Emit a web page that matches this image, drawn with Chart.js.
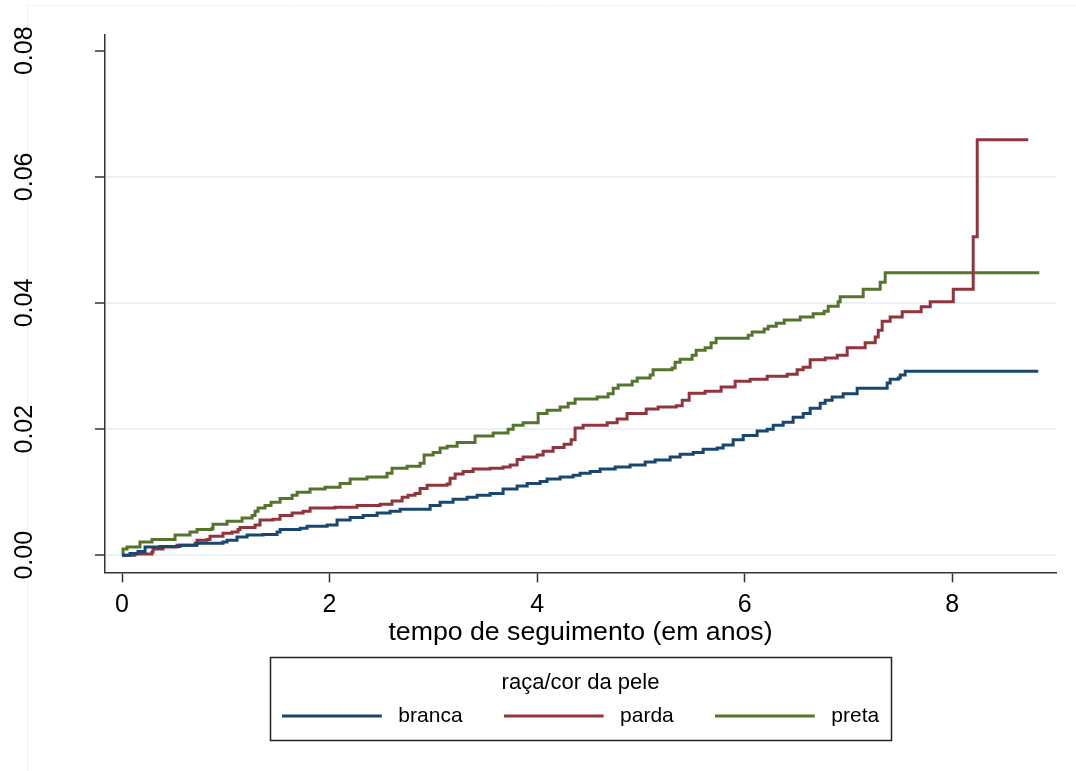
<!DOCTYPE html>
<html><head><meta charset="utf-8">
<script src="https://cdn.jsdelivr.net/npm/chart.js@4.4.1/dist/chart.umd.min.js"></script>
<style>html,body{margin:0;padding:0;background:#fff}</style>
</head><body>
<canvas id="c" width="1076" height="771"></canvas>
<script>
const seriesNames = ['branca', 'parda', 'preta'];
const legendTitle = 'raça/cor da pele';
const xTitle = 'tempo de seguimento (em anos)';
const xTicks = [0, 2, 4, 6, 8];
const yTicks = [0, 0.02, 0.04, 0.06, 0.08];

const brancaX = [0,0.077,0.154,0.222,0.366,0.559,0.723,0.973,1.012,1.108,1.205,1.359,1.494,1.523,1.716,1.783,1.976,2.072,2.198,2.323,2.458,2.583,2.680,2.969,3.065,3.190,3.325,3.422,3.547,3.672,3.807,3.904,4.029,4.096,4.222,4.347,4.414,4.511,4.607,4.752,4.896,5.041,5.137,5.282,5.378,5.504,5.600,5.735,5.793,5.889,5.986,6.120,6.217,6.275,6.371,6.467,6.564,6.631,6.728,6.776,6.843,6.949,7.084,7.373,7.402,7.480,7.499,7.547,8.829];
const brancaY = [0,0.0003,0.0006,0.0013,0.0014,0.0016,0.0019,0.0021,0.0024,0.0029,0.0032,0.0033,0.0037,0.0041,0.0043,0.0046,0.0048,0.0056,0.0060,0.0063,0.0067,0.0070,0.0073,0.0079,0.0084,0.0089,0.0092,0.0095,0.0098,0.0105,0.0110,0.0114,0.0117,0.0121,0.0124,0.0127,0.0130,0.0133,0.0137,0.0140,0.0143,0.0148,0.0151,0.0156,0.0160,0.0163,0.0168,0.0170,0.0175,0.0183,0.0190,0.0197,0.0200,0.0206,0.0211,0.0219,0.0225,0.0233,0.0241,0.0246,0.0251,0.0256,0.0265,0.0273,0.0279,0.0281,0.0286,0.0292,0.0292];

const pardaX = [0,0.125,0.289,0.299,0.395,0.530,0.704,0.723,0.819,0.848,0.973,1.060,1.118,1.137,1.282,1.330,1.455,1.523,1.639,1.745,1.812,2.053,2.265,2.487,2.602,2.699,2.757,2.824,2.872,2.940,3.133,3.161,3.210,3.287,3.383,3.547,3.672,3.740,3.807,3.865,4.000,4.058,4.154,4.260,4.328,4.366,4.443,4.675,4.771,4.867,5.051,5.166,5.340,5.398,5.465,5.619,5.773,5.908,6.053,6.217,6.410,6.506,6.564,6.631,6.776,6.892,6.988,7.161,7.258,7.287,7.325,7.402,7.518,7.701,7.788,8.010,8.202,8.241,8.733];
const pardaY = [0,0.0002,0.0005,0.0010,0.0013,0.0016,0.0019,0.0024,0.0025,0.0030,0.0035,0.0037,0.0041,0.0044,0.0048,0.0056,0.0057,0.0063,0.0067,0.0070,0.0075,0.0076,0.0079,0.0081,0.0086,0.0092,0.0095,0.0098,0.0106,0.0111,0.0113,0.0122,0.0129,0.0133,0.0137,0.0138,0.0140,0.0143,0.0152,0.0156,0.0159,0.0165,0.0171,0.0176,0.0183,0.0202,0.0206,0.0210,0.0216,0.0225,0.0232,0.0235,0.0237,0.0246,0.0257,0.0260,0.0267,0.0276,0.0279,0.0284,0.0287,0.0294,0.0298,0.0310,0.0313,0.0317,0.0329,0.0337,0.0346,0.0357,0.0371,0.0378,0.0386,0.0394,0.0402,0.0422,0.0505,0.0659,0.0659];

const pretaX = [0,0.010,0.048,0.173,0.289,0.511,0.655,0.723,0.867,0.877,1.012,1.157,1.253,1.282,1.311,1.378,1.436,1.523,1.639,1.687,1.812,1.957,2.101,2.198,2.361,2.554,2.602,2.747,2.872,2.911,2.998,3.065,3.133,3.229,3.402,3.576,3.720,3.769,3.865,4.010,4.096,4.222,4.299,4.366,4.578,4.684,4.733,4.781,4.916,4.964,5.089,5.118,5.301,5.330,5.378,5.494,5.533,5.619,5.677,5.725,6.034,6.072,6.188,6.227,6.304,6.381,6.535,6.660,6.766,6.805,6.901,6.920,7.142,7.306,7.354,8.839];
const pretaY = [0,0.0010,0.0013,0.0021,0.0025,0.0032,0.0037,0.0041,0.0043,0.0049,0.0054,0.0059,0.0063,0.0070,0.0075,0.0079,0.0084,0.0090,0.0095,0.0100,0.0105,0.0108,0.0114,0.0121,0.0124,0.0130,0.0138,0.0141,0.0146,0.0159,0.0163,0.0170,0.0173,0.0179,0.0189,0.0194,0.0200,0.0206,0.0210,0.0225,0.0230,0.0235,0.0241,0.0248,0.0251,0.0256,0.0265,0.0270,0.0276,0.0281,0.0286,0.0294,0.0297,0.0306,0.0311,0.0317,0.0325,0.0329,0.0337,0.0344,0.0349,0.0354,0.0359,0.0363,0.0368,0.0373,0.0378,0.0383,0.0387,0.0395,0.0402,0.0410,0.0422,0.0433,0.0448,0.0448];

const colors = ['#1a476f', '#90353b', '#55752f'];
const FONT = '"Liberation Sans", Arial, sans-serif';
const LEG_SAMPLE = 106; // legend sample box width (line + gap)

function pts(xs, ys) { return xs.map((x, i) => ({ x: x, y: ys[i] })); }
function legendSample(color) {
  const c = document.createElement('canvas');
  c.width = LEG_SAMPLE; c.height = 8;
  const g = c.getContext('2d');
  g.strokeStyle = color; g.lineWidth = 3;
  g.beginPath(); g.moveTo(0, 4); g.lineTo(100, 4); g.stroke();
  return c;
}
const allX = [brancaX, pardaX, pretaX];
const allY = [brancaY, pardaY, pretaY];

const frame = {
  id: 'frame',
  beforeDraw(chart) {
    const ctx = chart.ctx;
    ctx.save();
    ctx.fillStyle = '#ffffff';
    ctx.fillRect(0, 0, chart.width, chart.height);
    ctx.strokeStyle = '#eef3f4';
    ctx.lineWidth = 1;
    ctx.beginPath();
    ctx.moveTo(27.5, chart.height);
    ctx.lineTo(27.5, 5.5);
    ctx.lineTo(chart.width, 5.5);
    ctx.stroke();
    ctx.restore();
  },
  afterDraw(chart) {
    const lg = chart.legend;
    if (!lg || !lg.legendHitBoxes || !lg.legendHitBoxes.length) return;
    let l = Infinity, r = -Infinity;
    lg.legendHitBoxes.forEach(h => { l = Math.min(l, h.left); r = Math.max(r, h.left + h.width); });
    const ctx = chart.ctx;
    ctx.save();
    ctx.strokeStyle = '#222';
    ctx.lineWidth = 1.5;
    ctx.strokeRect(Math.round(l - 12) + 0.5, Math.round(lg.top) + 0.5, Math.round(r - l + 24), 83);
    ctx.restore();
  }
};

new Chart(document.getElementById('c'), {
  type: 'line',
  data: {
    datasets: seriesNames.map((n, i) => ({
      label: n,
      data: pts(allX[i], allY[i]),
      borderColor: colors[i],
      backgroundColor: colors[i],
      borderWidth: 3,
      pointRadius: 0,
      pointStyle: legendSample(colors[i]),
      stepped: true,
      fill: false
    }))
  },
  options: {
    responsive: false,
    animation: false,
    layout: { padding: { left: 0, right: 20, top: 35, bottom: 34.5 } },
    plugins: {
      tooltip: { enabled: false },
      legend: {
        position: 'bottom',
        fullSize: false,
        align: 'center',
        title: { display: true, text: legendTitle, color: '#000', font: { family: FONT, size: 22 }, padding: { top: 15, bottom: -34.2 } },
        labels: { usePointStyle: true, pointStyleWidth: LEG_SAMPLE, color: '#000', font: { family: FONT, size: 21 }, padding: 41 }
      }
    },
    scales: {
      x: {
        type: 'linear',
        min: -0.164,
        max: 9.0,
        afterBuildTicks(axis) { axis.ticks = xTicks.map(v => ({ value: v })); },
        afterFit(scale) { scale.height = 85; },
        border: { display: true, color: '#333', width: 1.5 },
        grid: { drawOnChartArea: false, drawTicks: true, tickLength: 10, tickColor: '#333', tickWidth: 1.5 },
        ticks: { color: '#000', font: { family: FONT, size: 25 }, padding: 8, maxRotation: 0 },
        title: { display: true, text: xTitle, color: '#000', font: { family: FONT, size: 26.7, lineHeight: 1.0 }, padding: { top: 0, bottom: 11 } }
      },
      y: {
        type: 'linear',
        min: -0.0027,
        max: 0.0825,
        afterBuildTicks(axis) { axis.ticks = yTicks.map(v => ({ value: v })); },
        afterFit(scale) { scale.width = 105; scale.paddingTop = 0; scale.paddingBottom = 0; },
        border: { display: true, color: '#333', width: 1.5 },
        grid: {
          drawOnChartArea: true, drawTicks: true, tickLength: 10, tickColor: '#333', tickWidth: 1.5,
          lineWidth: 2,
          color: ctx => (ctx.tick && ctx.tick.value > 0.07) ? 'rgba(0,0,0,0)' : '#eaf2f3'
        },
        ticks: {
          color: '#000', font: { family: FONT, size: 25 }, padding: 46,
          minRotation: 90, maxRotation: 90, crossAlign: 'center',
          callback: v => Number(v).toFixed(2)
        }
      }
    }
  },
  plugins: [frame]
});
</script>
</body></html>
